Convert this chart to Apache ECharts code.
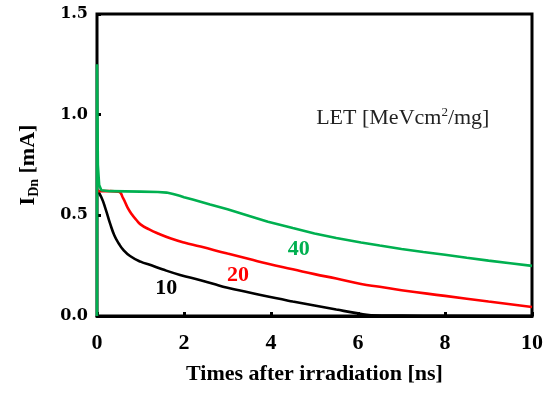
<!DOCTYPE html>
<html>
<head>
<meta charset="utf-8">
<script src="https://cdn.jsdelivr.net/npm/echarts@6/dist/echarts.min.js"></script>
<style>html,body{margin:0;padding:0;background:#fff}#c{width:552px;height:393px}</style>
</head>
<body>
<div id="c"></div>
<script>
// LET = 10 (black)
const let10 = [[0,0.625],[0.1,0.59],[0.2,0.53],[0.3,0.46],[0.4,0.4],[0.5,0.36],[0.6,0.33],[0.76,0.298],[1.0,0.27],[1.25,0.252],[1.5,0.232],[1.91,0.204],[2.38,0.178],[2.67,0.16],[3.0,0.14],[3.5,0.117],[4.1,0.089],[4.5,0.072],[5.0,0.052],[5.5,0.032],[6.0,0.013],[6.3,0.004],[7,0.002],[8,0.001],[10,0.0]];
// LET = 20 (red)
const let20 = [[0,0.62],[0.3,0.62],[0.5,0.617],[0.6,0.585],[0.7,0.54],[0.8,0.505],[0.9,0.478],[1.0,0.455],[1.2,0.43],[1.4,0.41],[1.7,0.385],[2.0,0.365],[2.38,0.345],[3.0,0.31],[3.5,0.283],[3.93,0.259],[4.5,0.232],[5.0,0.208],[5.5,0.186],[6.07,0.159],[6.5,0.145],[7.0,0.128],[8.0,0.1],[9.0,0.072],[10,0.045]];
// LET = 40 (green)
const let40 = [[0,0],[0,1.25],[0.02,0.75],[0.05,0.65],[0.1,0.625],[0.3,0.62],[1.0,0.618],[1.4,0.616],[1.6,0.613],[1.75,0.606],[1.9,0.597],[2.0,0.59],[2.2,0.579],[2.38,0.568],[2.6,0.554],[3.0,0.53],[3.5,0.497],[3.93,0.468],[4.5,0.437],[5.0,0.41],[5.5,0.387],[6.07,0.365],[6.5,0.35],[7,0.333],[7.5,0.318],[8,0.304],[8.5,0.289],[9,0.275],[9.5,0.262],[10,0.249]];
const curveLabels = [{text:'10',coord:[1.59,0.139],color:'#000000'},{text:'20',coord:[3.24,0.204],color:'#FF0000'},{text:'40',coord:[4.64,0.333],color:'#00B050'}];
const legendTitle = {coord:[7.03,0.98]};
const xTicks = {min:0,max:10,interval:2};
const yTicks = {min:0,max:1.5,interval:0.5};

const chart = echarts.init(document.getElementById('c'));
const serif = 'Liberation Serif';
function lineSeries(data, color, smooth, label, z){
  return {
    type:'line', data:data, showSymbol:false, smooth:smooth, z: z,
    lineStyle:{color:color,width:2.6}, itemStyle:{color:color},
    animation:false,
    markPoint: label ? {
      symbol:'circle', symbolSize:0, animation:false,
      data:[{coord:label.coord, value:label.text, label:{show:true, position:'inside', formatter:label.text, color:label.color, fontFamily:serif, fontWeight:'bold', fontSize:22}}]
    } : undefined
  };
}
const s40 = lineSeries(let40,'#00B050',false,curveLabels[2],5);
s40.markPoint.data.push({coord:legendTitle.coord, label:{show:true, position:'inside', formatter:'LET [MeVcm{sup|2}/mg]', color:'#222', fontFamily:serif, fontSize:22, lineHeight:26, rich:{sup:{fontFamily:serif,fontSize:13,color:'#222',verticalAlign:'top',lineHeight:26}}}});
chart.setOption({
  animation:false,
  grid:{left:97,right:20,top:14,bottom:77,show:true,borderColor:'#000',borderWidth:3,backgroundColor:'transparent'},
  xAxis:{type:'value',min:xTicks.min,max:xTicks.max,interval:xTicks.interval,
    name:'Times after irradiation [ns]',nameLocation:'middle',nameGap:47,
    nameTextStyle:{fontFamily:serif,fontWeight:'bold',fontSize:22,color:'#000'},
    axisLine:{show:true,lineStyle:{color:'#000',width:3}},
    axisTick:{show:true,inside:true,length:4,lineStyle:{color:'#000',width:3}},
    axisLabel:{fontFamily:serif,fontWeight:'bold',fontSize:22,color:'#000',margin:16},
    splitLine:{show:false}},
  yAxis:{type:'value',min:yTicks.min,max:yTicks.max,interval:yTicks.interval,
    name:'I{sub|Dn} [mA]',nameLocation:'middle',nameGap:56,nameRotate:90,
    nameTextStyle:{fontFamily:serif,fontWeight:'bold',fontSize:22,color:'#000',lineHeight:26,
      rich:{sub:{fontFamily:serif,fontWeight:'bold',fontSize:14,color:'#000',verticalAlign:'bottom',lineHeight:26}}},
    axisLine:{show:false},
    axisTick:{show:true,inside:true,length:4,lineStyle:{color:'#000',width:3}},
    axisLabel:{fontFamily:'DejaVu Serif',fontWeight:'bold',fontSize:16,color:'#000',margin:9,formatter:v=>v.toFixed(1)},
    splitLine:{show:false}},
  series:[
    lineSeries(let10,'#000000',0.5,curveLabels[0],3),
    lineSeries(let20,'#FF0000',0.5,curveLabels[1],4),
    s40
  ]
});
</script>
</body>
</html>
